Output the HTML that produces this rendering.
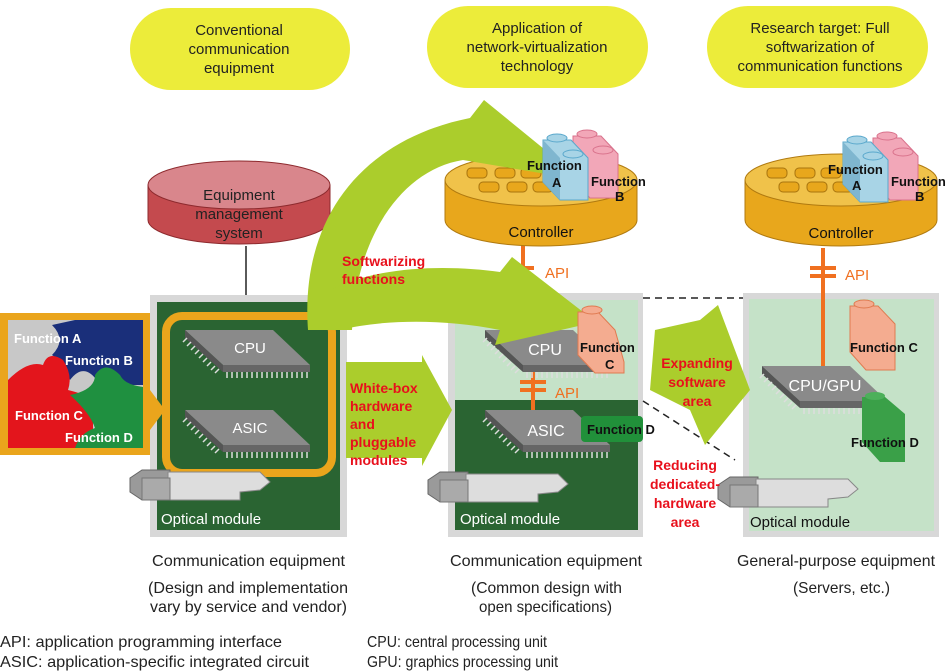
<!DOCTYPE html>
<html><head><meta charset="utf-8"><style>
html,body{margin:0;padding:0;background:#fff;width:950px;height:672px;overflow:hidden}
svg{display:block}
text{font-family:"Liberation Sans",sans-serif}
.b{font-weight:bold}
.r{fill:#e8101c;font-weight:bold;font-size:14px}
</style></head><body>
<svg width="950" height="672" viewBox="0 0 950 672" xmlns="http://www.w3.org/2000/svg">
<defs>
<g id="chip">
  <polygon points="0,0 88,0 125,35 38,35" fill="#8a8a8a"/>
  <polygon points="0,0 38,35 38,42 0,8" fill="#555"/>
  <polygon points="38,35 125,35 125,42 38,42" fill="#666"/>
  <g stroke="#ddd" stroke-width="1.5">
    <path d="M42,42v6M47,42v6M52,42v6M57,42v6M62,42v6M67,42v6M72,42v6M77,42v6M82,42v6M87,42v6M92,42v6M97,42v6M102,42v6M107,42v6M112,42v6M117,42v6M122,42v6"/>
    <path d="M2,8l-4,4M6,12l-4,4M10,16l-4,4M14,20l-4,4M18,24l-4,4M22,28l-4,4M26,32l-4,4M30,36l-4,4M34,39l-4,4"/>
  </g>
</g>
<g id="opt">
  <polygon points="0,8 12,0 40,0 40,22 12,30 0,22" fill="#9a9a9a" stroke="#666"/>
  <polygon points="38,2 130,2 140,12 130,20 110,22 110,30 38,30" fill="#ddd" stroke="#888"/>
  <rect x="12" y="8" width="28" height="22" fill="#aaa" stroke="#777"/>
</g>
<g id="ctrl">
  <path d="M0,40 v40 a96,26 0 0 0 192,0 v-40z" fill="#e8a71c" stroke="#b07a10"/>
  <ellipse cx="96" cy="40" rx="96" ry="26" fill="#f0c24a" stroke="#b07a10"/>
  <g fill="#e8a71c" stroke="#a8740e">
    <rect x="22" y="28" width="20" height="10" rx="4"/><rect x="50" y="28" width="20" height="10" rx="4"/><rect x="76" y="28" width="20" height="10" rx="4"/>
    <rect x="34" y="42" width="20" height="10" rx="4"/><rect x="62" y="42" width="20" height="10" rx="4"/><rect x="88" y="42" width="20" height="10" rx="4"/>
  </g>
</g>
<g id="bricks">
  <!-- pink back -->
  <polygon points="30,8 58,8 75,26 75,70 47,70 30,52" fill="#f2a7b8" stroke="#d9728c"/>
  <ellipse cx="44" cy="6" rx="10" ry="4" fill="#f2a7b8" stroke="#d9728c"/>
  <ellipse cx="60" cy="22" rx="10" ry="4" fill="#f2a7b8" stroke="#d9728c"/>
  <!-- blue front -->
  <polygon points="0,12 28,12 45,30 45,72 17,72 0,54" fill="#a8d4e6" stroke="#5aa8cc"/>
  <polygon points="0,12 17,30 17,72 0,54" fill="#7fb6cf"/>
  <ellipse cx="14" cy="10" rx="10" ry="4" fill="#a8d4e6" stroke="#5aa8cc"/>
  <ellipse cx="30" cy="26" rx="10" ry="4" fill="#a8d4e6" stroke="#5aa8cc"/>
</g>
</defs>

<!-- yellow pills -->
<rect x="130" y="8" width="220" height="82" rx="41" fill="#ecec3a"/>
<rect x="427" y="6" width="221" height="82" rx="41" fill="#ecec3a"/>
<rect x="707" y="6" width="221" height="82" rx="41" fill="#ecec3a"/>
<g font-size="15" text-anchor="middle" fill="#222">
<text x="239" y="35">Conventional</text><text x="239" y="54">communication</text><text x="239" y="73">equipment</text>
<text x="537" y="33">Application of</text><text x="537" y="52">network-virtualization</text><text x="537" y="71">technology</text>
<text x="820" y="33">Research target: Full</text><text x="820" y="52">softwarization of</text><text x="820" y="71">communication functions</text>
</g>

<!-- equipment management -->
<path d="M148,185 v35 a91,24 0 0 0 182,0 v-35z" fill="#c44a4e" stroke="#8d2a2e"/>
<ellipse cx="239" cy="185" rx="91" ry="24" fill="#d9868c" stroke="#8d2a2e"/>
<g font-size="15" text-anchor="middle" fill="#222"><text x="239" y="200">Equipment</text><text x="239" y="219">management</text><text x="239" y="238">system</text></g>
<line x1="246" y1="246" x2="246" y2="296" stroke="#222" stroke-width="1.5"/>

<!-- left equipment -->
<rect x="150" y="295" width="197" height="242" fill="#d8d8d8"/>
<rect x="157" y="302" width="183" height="228" fill="#2a6432"/>
<rect x="166" y="316" width="166" height="157" rx="16" fill="none" stroke="#eaa51c" stroke-width="8"/>
<use href="#chip" x="185" y="330"/>
<use href="#chip" x="185" y="410"/>
<text x="250" y="353" fill="#fff" font-size="15" text-anchor="middle">CPU</text>
<text x="250" y="433" fill="#fff" font-size="15" text-anchor="middle">ASIC</text>
<use href="#opt" x="130" y="470"/>
<text x="161" y="524" fill="#fff" font-size="15">Optical module</text>

<!-- puzzle -->
<polygon points="0,313 150,313 150,390 165,410 150,430 150,455 0,455" fill="#eaa51c"/>
<rect x="8" y="320" width="135" height="128" fill="#c8c8c8"/>
<path d="M75,320 H143 V385 H100 q-15,-25 -30,-5 q-10,-20 -18,-25 q15,-15 0,-30z" fill="#1a2f7a"/>
<path d="M8,380 q20,-20 35,-15 q5,-15 20,-5 q10,15 5,30 q20,5 25,10 v48 H8z" fill="#e3151c"/>
<path d="M70,395 q25,-5 25,-20 q10,-15 25,0 q5,10 23,12 V448 H75 q5,-15 20,-20 q-5,-15 -25,-33z" fill="#1f9040"/>
<g fill="#fff" font-size="13" class="b">
<text x="14" y="343">Function A</text><text x="65" y="365">Function B</text><text x="15" y="420">Function C</text><text x="65" y="442">Function D</text>
</g>

<!-- middle equipment -->
<rect x="448" y="293" width="195" height="244" fill="#d8d8d8"/>
<rect x="455" y="300" width="183" height="100" fill="#c5e2c8"/>
<rect x="455" y="400" width="183" height="130" fill="#2a6432"/>
<line x1="523" y1="245" x2="523" y2="330" stroke="#f07020" stroke-width="4"/>
<path d="M512,268h22M512,276h22" stroke="#f07020" stroke-width="4"/>
<text x="545" y="278" fill="#f07020" font-size="15">API</text>
<line x1="533" y1="370" x2="533" y2="410" stroke="#f07020" stroke-width="4"/>
<path d="M520,382h26M520,390h26" stroke="#f07020" stroke-width="4"/>
<text x="555" y="398" fill="#f07020" font-size="15">API</text>
<use href="#chip" x="485" y="330"/>
<text x="545" y="355" fill="#fff" font-size="16" text-anchor="middle">CPU</text>
<use href="#chip" x="485" y="410"/>
<text x="546" y="436" fill="#fff" font-size="16" text-anchor="middle">ASIC</text>
<rect x="581" y="416" width="62" height="26" rx="4" fill="#21903a"/>
<text x="587" y="434" font-size="13" class="b" fill="#111">Function D</text>
<use href="#opt" x="428" y="472"/>
<text x="460" y="524" fill="#fff" font-size="15">Optical module</text>
<use href="#ctrl" x="445" y="140"/>
<text x="541" y="237" font-size="15" text-anchor="middle" fill="#111">Controller</text>

<!-- right equipment -->
<rect x="743" y="293" width="196" height="244" fill="#d8d8d8"/>
<rect x="749" y="299" width="185" height="232" fill="#c5e2c8"/>
<line x1="823" y1="248" x2="823" y2="368" stroke="#f07020" stroke-width="4"/>
<path d="M810,268h26M810,276h26" stroke="#f07020" stroke-width="4"/>
<text x="845" y="280" fill="#f07020" font-size="15">API</text>
<use href="#chip" x="762" y="366"/>
<text x="825" y="391" fill="#fff" font-size="16" text-anchor="middle">CPU/GPU</text>
<polygon points="850,306 878,306 895,324 895,370 866,370 850,352" fill="#f4ac90" stroke="#e07a50"/>
<ellipse cx="864" cy="304" rx="10" ry="4" fill="#f4ac90" stroke="#e07a50"/>
<text x="850" y="352" font-size="13" class="b" fill="#111">Function C</text>
<polygon points="862,397 885,397 905,414 905,462 880,462 862,442" fill="#3aa048"/>
<ellipse cx="875" cy="396" rx="10" ry="4" fill="#4cb05a"/>
<text x="851" y="447" font-size="13" class="b" fill="#111">Function D</text>
<use href="#opt" x="718" y="477"/>
<text x="750" y="527" fill="#111" font-size="15">Optical module</text>
<use href="#ctrl" x="745" y="140"/>
<text x="841" y="238" font-size="15" text-anchor="middle" fill="#111">Controller</text>

<!-- dashed lines -->
<line x1="643" y1="298" x2="743" y2="298" stroke="#222" stroke-dasharray="7,5" stroke-width="1.5"/>
<line x1="643" y1="401" x2="735" y2="460" stroke="#222" stroke-dasharray="7,5" stroke-width="1.5"/>

<!-- green arrows -->
<g fill="#abcd2c">
<path d="M308,330 C300,220 360,140 470,118 L484,100 L582,180 L463,160 C400,170 355,240 352,330z"/>
<path d="M330,290 C380,265 450,265 500,272 L512,257 L596,322 L495,345 L500,330 C440,318 380,320 340,330z"/>
<polygon points="346,362 422,362 422,355 452,410 422,466 422,458 346,458"/>
<polygon points="655,330 700,320 718,305 750,390 705,445 690,410 650,390"/>
</g>

<!-- bricks over arrows -->
<use href="#bricks" x="543" y="128"/>
<text x="527" y="170" font-size="13" class="b" fill="#111">Function</text><text x="552" y="187" font-size="13" class="b" fill="#111">A</text>
<text x="591" y="186" font-size="13" class="b" fill="#111">Function</text><text x="615" y="201" font-size="13" class="b" fill="#111">B</text>
<use href="#bricks" x="843" y="130"/>
<text x="828" y="174" font-size="13" class="b" fill="#111">Function</text><text x="852" y="190" font-size="13" class="b" fill="#111">A</text>
<text x="891" y="186" font-size="13" class="b" fill="#111">Function</text><text x="915" y="201" font-size="13" class="b" fill="#111">B</text>
<polygon points="578,312 598,312 615,330 624,362 624,373 595,373 578,355" fill="#f4ac90" stroke="#e07a50"/>
<ellipse cx="592" cy="310" rx="10" ry="4" fill="#f4ac90" stroke="#e07a50"/>
<text x="580" y="352" font-size="13" class="b" fill="#111">Function</text><text x="605" y="369" font-size="13" class="b" fill="#111">C</text>

<text x="342" y="266" class="r">Softwarizing</text><text x="342" y="284" class="r">functions</text>
<text x="350" y="393" class="r">White-box</text><text x="350" y="411" class="r">hardware</text><text x="350" y="429" class="r">and</text><text x="350" y="447" class="r">pluggable</text><text x="350" y="465" class="r">modules</text>
<g text-anchor="middle"><text x="697" y="368" class="r">Expanding</text><text x="697" y="387" class="r">software</text><text x="697" y="406" class="r">area</text>
<text x="685" y="470" class="r">Reducing</text><text x="685" y="489" class="r">dedicated-</text><text x="685" y="508" class="r">hardware</text><text x="685" y="527" class="r">area</text></g>

<!-- bottom text -->
<g font-size="16" fill="#222" lengthAdjust="spacingAndGlyphs">
<text x="152" y="566" textLength="193" lengthAdjust="spacingAndGlyphs">Communication equipment</text>
<text x="148" y="593" textLength="200" lengthAdjust="spacingAndGlyphs">(Design and implementation</text>
<text x="150" y="612" textLength="197" lengthAdjust="spacingAndGlyphs">vary by service and vendor)</text>
<text x="450" y="566" textLength="192" lengthAdjust="spacingAndGlyphs">Communication equipment</text>
<text x="471" y="593" textLength="151" lengthAdjust="spacingAndGlyphs">(Common design with</text>
<text x="479" y="612" textLength="133" lengthAdjust="spacingAndGlyphs">open specifications)</text>
<text x="737" y="566" textLength="198" lengthAdjust="spacingAndGlyphs">General-purpose equipment</text>
<text x="793" y="593" textLength="97" lengthAdjust="spacingAndGlyphs">(Servers, etc.)</text>
<text x="0" y="647" textLength="282" lengthAdjust="spacingAndGlyphs">API: application programming interface</text>
<text x="0" y="667" textLength="309" lengthAdjust="spacingAndGlyphs">ASIC: application-specific integrated circuit</text>
<text x="367" y="647" textLength="180" lengthAdjust="spacingAndGlyphs">CPU: central processing unit</text>
<text x="367" y="667" textLength="191" lengthAdjust="spacingAndGlyphs">GPU: graphics processing unit</text>
</g>
</svg>
</body></html>
